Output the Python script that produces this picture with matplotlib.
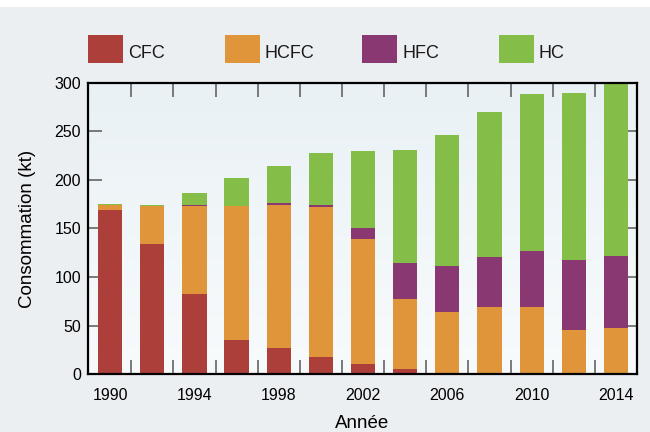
"""
Consommation de CFC, HCFC, HFC et HC, 1990-2014 (barres empilées).
"""

import numpy as np
import matplotlib
matplotlib.use("Agg")
import matplotlib.pyplot as plt
from matplotlib.patches import Rectangle

# Data (kt)
years = [1990, 1992, 1994, 1996, 1998, 2000, 2002, 2004, 2006, 2008, 2010, 2012, 2014]
cfc = [169, 134, 82.5, 35, 27, 17.5, 10, 5, 1, 0.5, 0.3, 0.2, 0.2]
hcfc = [5, 39.5, 90.5, 138, 147, 154.5, 129, 72, 63, 68.5, 68.7, 45.2, 47.2]
hfc = [0, 0, 1, 0.3, 2, 2, 11.5, 37.4, 47, 51.6, 57.8, 72, 74]
hc = [1.5, 0.7, 12.6, 29, 38.5, 54, 79.5, 116.6, 135, 149.4, 162, 172, 180]

series = ["CFC", "HCFC", "HFC", "HC"]
colors = ["#ad3f3a", "#e0953b", "#8a3872", "#84bd47"]

plt.rcParams["font.family"] = ["Liberation Sans", "DejaVu Sans"]

fig = plt.figure(figsize=(6.5, 4.32), dpi=100, facecolor="#eceff2")
# white strip along the top edge
fig.patches.append(Rectangle((0, 1 - 7 / 432), 1, 7 / 432, transform=fig.transFigure,
                             facecolor="white", edgecolor="none", zorder=0))

ax = fig.add_axes([88 / 650, 1 - 374 / 432, (637 - 88) / 650, (374 - 83) / 432])
ax.set_facecolor("none")

# vertical gradient background inside the axes
grad = np.linspace(0, 1, 256).reshape(-1, 1)
top_c = np.array([0.914, 0.945, 0.961])
bot_c = np.array([0.973, 0.984, 0.988])
img = top_c[None, None, :] * (1 - grad[:, :, None]) + bot_c[None, None, :] * grad[:, :, None]
ax.imshow(img, extent=[0, 1, 0, 1], transform=ax.transAxes, aspect="auto", zorder=0)

bottom = np.zeros(len(years))
for vals, col in zip([cfc, hcfc, hfc, hc], colors):
    ax.bar(years, vals, bottom=bottom, width=1.15, color=col, linewidth=0, zorder=2)
    bottom += np.array(vals)

ax.set_xlim(1988.95, 2015)
ax.set_ylim(0, 300)

ax.set_xticks(years[::2])
ax.set_xticks(np.arange(1991, 2014, 2), minor=True)
ax.tick_params(axis="x", which="major", length=0, pad=10, labelsize=11.5)
ax.tick_params(axis="x", which="minor", direction="in", length=10, width=1.3,
               color="#6f6f6f", top=True, bottom=True)
ax.set_yticks(np.arange(0, 301, 50))
ax.tick_params(axis="y", direction="in", length=10, width=1.3, color="#6f6f6f",
               left=True, right=True, pad=5, labelsize=11.5)

for sp in ax.spines.values():
    sp.set_linewidth(1.6)
    sp.set_color("black")
    sp.set_zorder(3)

ax.set_xlabel("Année", fontsize=13.5, labelpad=9)
ax.set_ylabel("Consommation (kt)", fontsize=13.5, labelpad=13)

# legend drawn as four evenly spaced boxes with labels
for i, (name, col) in enumerate(zip(series, colors)):
    x0 = (88 + i * 137) / 650
    fig.patches.append(Rectangle((x0, 1 - 63 / 432), 35 / 650, 28 / 432,
                                 transform=fig.transFigure, facecolor=col,
                                 edgecolor="none"))
    fig.text(x0 + 40 / 650, 1 - 58 / 432, name, fontsize=13, va="baseline",
             ha="left", color="#1a1a1a")

fig.savefig("out.png", dpi=100, facecolor=fig.get_facecolor())
